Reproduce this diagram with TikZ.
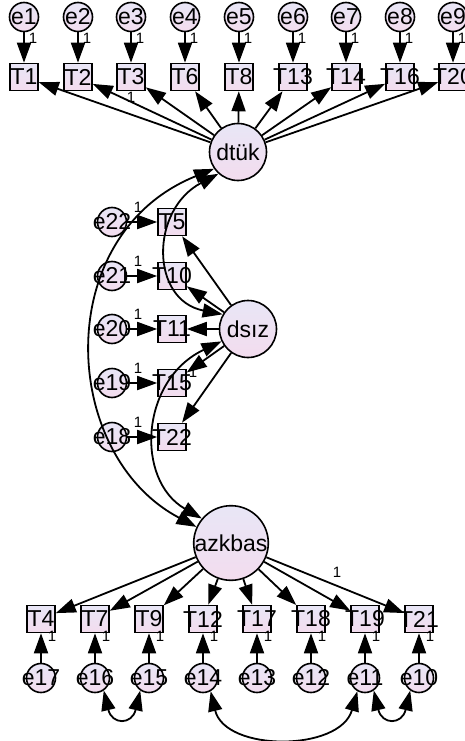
\documentclass[tikz,border=0pt]{standalone}
\usepackage{fontspec}
\setmainfont{Liberation Sans}
\usetikzlibrary{arrows.meta}
\definecolor{fillA}{RGB}{232,230,246}
\definecolor{fillB}{RGB}{243,220,238}
\newcommand\lbl[1]{\makebox[0pt]{#1}}
\tikzset{
 obs/.style={draw, line width=1.6pt, minimum width=28pt, minimum height=27pt, inner sep=0pt,
   top color=fillA, bottom color=fillB, font=\fontsize{23}{23}\selectfont},
 err/.style={draw, circle, line width=1.6pt, minimum size=29pt, inner sep=0pt,
   top color=fillA, bottom color=fillB, font=\fontsize{23}{23}\selectfont},
 lat/.style={draw, circle, line width=1.6pt, minimum size=57pt, inner sep=0pt,
   top color=fillA, bottom color=fillB, font=\fontsize{23}{23}\selectfont},
 tip/.tip={Triangle[length=20pt,width=14pt]},
 arr/.style={line width=1.8pt, -tip},
 cov/.style={line width=1.8pt, tip-tip},
 one/.style={font=\fontsize{15}{15}\selectfont, inner sep=0pt}
}
\begin{document}
\begin{tikzpicture}[x=1pt,y=-1pt]
\useasboundingbox (0,0) rectangle (465,741);
% latent
\node[lat] (dtuk) at (238,152) {dtük};
\node[lat] (dsiz) at (248,329) {dsız};
\node[lat] (azkbas) at (231,543) {azkbas};
% top row
\foreach \t/\e/\x [count=\i] in {T1/e1/24, T2/e2/78, T3/e3/131, T6/e4/185, T8/e5/239, T13/e6/293, T14/e7/346, T16/e8/400, T20/e9/453}{
  \node[obs] (\t) at (\x,77) {\lbl{\t}};
  \node[err] (\e) at (\x,17) {\lbl{\e}};
  \draw[arr] (\e) -- (\t);
  \node[one] (o\e) at (\x+9,38) {1};
  \draw[arr] (dtuk) -- (\t);
}
% middle
\foreach \t/\e/\y in {T5/e22/222, T10/e21/276, T11/e20/329, T15/e19/383, T22/e18/437}{
  \node[obs] (\t) at (172,\y) {\lbl{\t}};
  \node[err] (\e) at (112,\y) {\lbl{\e}};
  \draw[arr] (\e) -- (\t);
  \node[one] (o\e) at (138,\y-15) {1};
  \draw[arr] (dsiz) -- (\t);
}
% bottom
\foreach \t/\e/\x in {T4/e17/41, T7/e16/95, T9/e15/149, T12/e14/203, T17/e13/257, T18/e12/311, T19/e11/365, T21/e10/419}{
  \node[obs] (\t) at (\x,619) {\lbl{\t}};
  \node[err] (\e) at (\x,678) {\lbl{\e}};
  \draw[arr] (\e) -- (\t);
  \node[one] (o\e) at (\x+11,636) {1};
  \draw[arr] (azkbas) -- (\t);
}
% loading labels
\node[one] (l1) at (131,97) {1};
\node[one] (l2) at (193,372) {1};
\node[one] (l3) at (337,572) {1};
% covariances between factors
\draw[cov] (dtuk.215) .. controls (50,235) and (60,455) .. (azkbas.155);
\draw[cov] (dtuk.228) .. controls (150,210) and (150,300) .. (dsiz.150);
\draw[cov] (dsiz.205) .. controls (140,380) and (135,480) .. (azkbas.140);
% error covariances
\draw[cov] (e16.-55) .. controls (112,725) and (132,725) .. (e15.235);
\draw[cov] (e11.-55) .. controls (382,725) and (402,725) .. (e10.235);
\draw[cov] (e14.-60) .. controls (225,752) and (340,752) .. (e11.240);
\end{tikzpicture}
\end{document}
